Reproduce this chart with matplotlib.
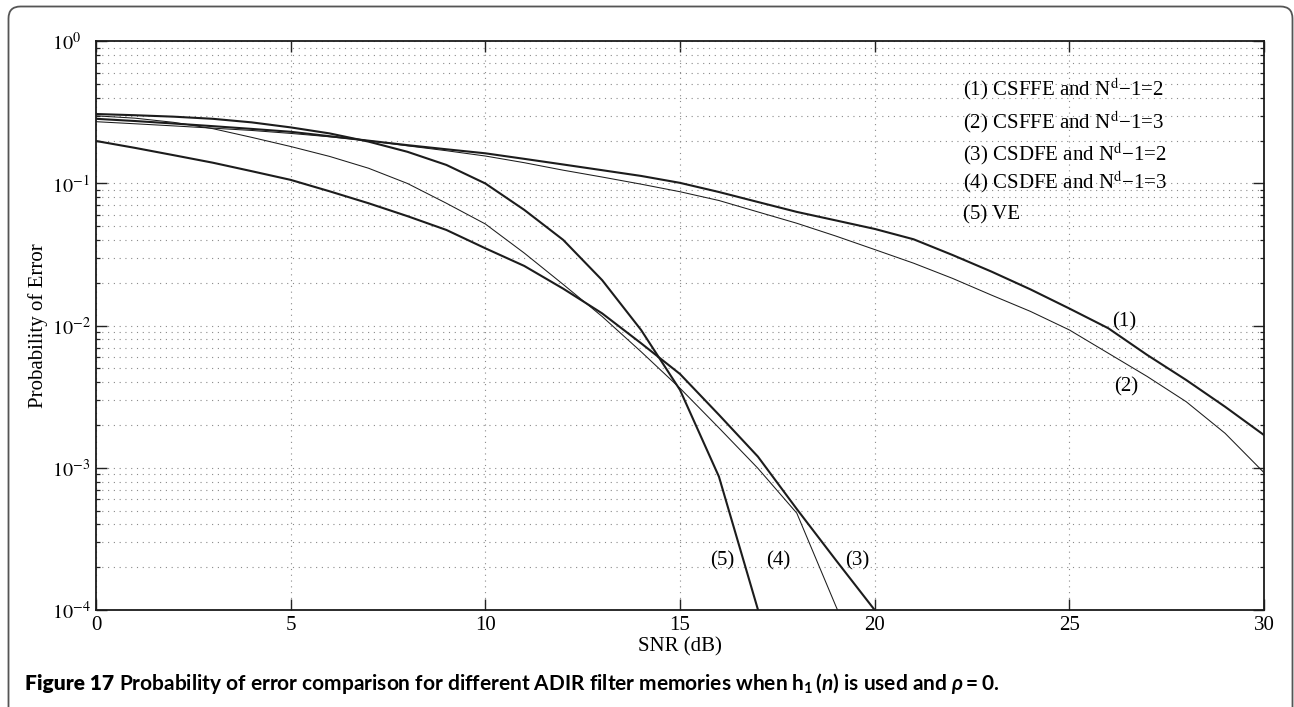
import matplotlib
matplotlib.use("Agg")
import matplotlib.pyplot as plt
from matplotlib.patches import FancyBboxPatch
from matplotlib.transforms import IdentityTransform
from matplotlib.ticker import LogLocator, NullLocator, NullFormatter

# ---- data -------------------------------------------------------------
snr_db = list(range(0, 31))

pe_csffe_n2 = [0.285, 0.275, 0.264, 0.253, 0.242, 0.231, 0.215, 0.200, 0.186, 0.174,
               0.163, 0.149, 0.136, 0.124, 0.113, 0.101, 0.0871, 0.0741, 0.0631, 0.0550,
               0.0479, 0.0405, 0.0314, 0.0240, 0.0180, 0.0132, 0.00959, 0.00622, 0.00415,
               0.00269, 0.00170]
pe_csffe_n3 = [0.272, 0.263, 0.254, 0.245, 0.236, 0.225, 0.213, 0.200, 0.184, 0.170,
               0.156, 0.140, 0.124, 0.111, 0.0989, 0.0875, 0.0759, 0.0631, 0.0525, 0.0427,
               0.0343, 0.0275, 0.0215, 0.0164, 0.0126, 0.00933, 0.00640, 0.00439, 0.00292,
               0.00175, 0.000925]
pe_csdfe_n2 = [0.199, 0.178, 0.158, 0.140, 0.122, 0.106, 0.0881, 0.0726, 0.0589, 0.0471,
               0.0350, 0.0263, 0.0182, 0.0122, 0.00752, 0.00457, 0.00236, 0.00120, 0.000513,
               0.000225, 0.0001]
pe_csdfe_n3 = [0.299, 0.288, 0.269, 0.243, 0.211, 0.182, 0.155, 0.128, 0.100, 0.0726,
               0.0519, 0.0324, 0.0195, 0.0116, 0.00656, 0.00363, 0.00191, 0.000993, 0.000480,
               0.000107, 0.0000251]
pe_ve = [0.308, 0.302, 0.295, 0.285, 0.269, 0.248, 0.225, 0.197, 0.167, 0.135,
         0.100, 0.0652, 0.0401, 0.0209, 0.00933, 0.00353, 0.000867, 0.000101]

series = [pe_csffe_n2, pe_csffe_n3, pe_csdfe_n2, pe_csdfe_n3, pe_ve]
series_tags = ["(1)", "(2)", "(3)", "(4)", "(5)"]
legend_entries = [
    "(1) CSFFE and N$^{\\mathrm{d}}$\u22121=2",
    "(2) CSFFE and N$^{\\mathrm{d}}$\u22121=3",
    "(3) CSDFE and N$^{\\mathrm{d}}$\u22121=2",
    "(4) CSDFE and N$^{\\mathrm{d}}$\u22121=3",
    "(5) VE",
]
x_ticks = [0, 5, 10, 15, 20, 25, 30]
y_exponents = [-4, -3, -2, -1, 0]

# ---- styling ----------------------------------------------------------
W, H = 1294, 707
SERIF = "Liberation Serif"
FS = 15
line_color = "#1c1c1c"
widths = [1.5, 0.75, 1.5, 0.75, 1.5]

fig = plt.figure(figsize=(W / 100, H / 100), dpi=100)
fig.patch.set_facecolor("white")

ax = fig.add_axes([96 / W, 97 / H, 1168 / W, 568.7 / H])
ax.set_yscale("log")

for vals, lw in zip(series, widths):
    ax.plot(snr_db[:len(vals)], vals, color=line_color, lw=lw,
            solid_joinstyle="miter", zorder=3)

ax.set_xlim(0, 30)
ax.set_ylim(1e-4, 1)

# ticks
ax.set_xticks(x_ticks)
ax.set_xticklabels([str(v) for v in x_ticks], fontfamily=SERIF, fontsize=FS)
ax.xaxis.set_minor_locator(NullLocator())
ax.set_yticks([10.0 ** e for e in y_exponents])
ax.set_yticklabels(["$10^{%d}$" % e for e in y_exponents], fontsize=FS - 0.5,
                   math_fontfamily="stix", ha="left")
ax.yaxis.set_minor_locator(LogLocator(base=10, subs=range(2, 10), numticks=20))
ax.yaxis.set_minor_formatter(NullFormatter())
ax.tick_params(which="both", direction="in", top=True, right=True,
               color="#222222")
ax.tick_params(which="major", length=8, width=1.0)
ax.tick_params(which="minor", length=3.2, width=0.9)
ax.tick_params(axis="x", pad=4.5)
ax.tick_params(axis="y", pad=31.5)

for sp in ax.spines.values():
    sp.set_linewidth(1.3)
    sp.set_color("#1a1a1a")

# dotted grid
grid_kw = dict(color="#8a8a8a", lw=0.8, ls=(0, (1, 4.2)))
ax.grid(True, which="major", axis="x", **grid_kw)
ax.grid(True, which="both", axis="y", **grid_kw)
ax.set_axisbelow(True)

# axis labels
fig.text(680 / W, 1 - 647 / H, "SNR (dB)", ha="center", va="center",
         fontfamily=SERIF, fontsize=FS)
fig.text(38 / W, 1 - 325.5 / H, "Probability of Error", rotation=90,
         ha="center", va="center", fontfamily=SERIF, fontsize=FS)

# in-plot legend text
legend_y = [0.9056, 0.847, 0.7913, 0.7406, 0.6872]
for txt, yy in zip(legend_entries, legend_y):
    ax.text(0.742, yy, txt, transform=ax.transAxes, ha="left", va="baseline",
            fontfamily=SERIF, fontsize=FS, math_fontfamily="stix", zorder=4)

# curve tags
tag_pos = [(0.8807, 0.4994), (0.8816, 0.3839), (0.6518, 0.079),
           (0.5845, 0.079), (0.5362, 0.079)]
for tag, (xx, yy) in zip(series_tags, tag_pos):
    ax.text(xx, yy, tag, transform=ax.transAxes, ha="center", va="baseline",
            fontfamily=SERIF, fontsize=FS, zorder=4)

# frame around the figure
frame = FancyBboxPatch((8.5, -40), 1284, H - 6.5 + 40,
                       boxstyle="round,pad=0,rounding_size=12",
                       transform=IdentityTransform(), fill=False,
                       ec="#555555", lw=1.3)
fig.add_artist(frame)

# caption
CAP_FONT = "Lato"
plt.rcParams["mathtext.fontset"] = "custom"
plt.rcParams["mathtext.rm"] = CAP_FONT + ":bold"
plt.rcParams["mathtext.bf"] = CAP_FONT + ":bold"
plt.rcParams["mathtext.it"] = CAP_FONT + ":italic:bold"
cap_y = 1 - 690 / H
t1 = fig.text(25 / W, cap_y, "Figure 17", ha="left", va="baseline",
              fontfamily=CAP_FONT, fontweight="heavy", fontsize=15)
fig.canvas.draw()
bb = t1.get_window_extent(renderer=fig.canvas.get_renderer())
fig.text((bb.x1 + 5) / W, cap_y,
         "Probability of error comparison for different ADIR filter memories when "
         "$\\mathbf{h}_{\\mathbf{1}}\\,(\\mathit{n})$ is used and $\\mathit{\\rho} = \\mathbf{0}$.",
         ha="left", va="baseline", fontfamily=CAP_FONT, fontweight="bold",
         fontsize=15, math_fontfamily="custom")

fig.savefig("out.png", dpi=100)
